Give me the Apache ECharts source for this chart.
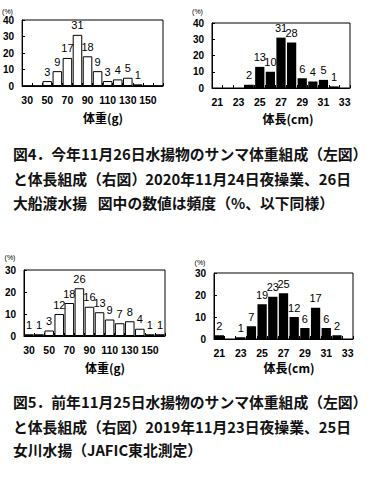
<!DOCTYPE html>
<html><head><meta charset="utf-8">
<script src="https://cdn.jsdelivr.net/npm/echarts@6/dist/echarts.min.js"></script>
<style>
html,body{margin:0;padding:0;background:#fff}
#c{width:371px;height:478px}
</style>
</head><body><div id="c"></div>
<script>
// categories
const weightCats = ['30','40','50','60','70','80','90','100','110','120','130','140','150','160'];
const lengthCats = ['21','22','23','24','25','26','27','28','29','30','31','32','33'];
// 2020 (fig.4): bar heights in % and printed labels
const wt2020Pct = [0,0,3,9,17,31,18,9,3,4,5,1,0,0];
const wt2020Lbl = [0,0,3,9,17,31,18,9,3,4,5,1,0,0];
const len2020Pct = [0,0,0,2,13,10,31,28,6,4,5,1,0];
const len2020Lbl = [0,0,0,2,13,10,31,28,6,4,5,1,0];
// 2019 (fig.5): bar heights in % and printed labels (counts)
const wt2019Pct = [0.8,0.8,2.5,10,15,21.7,13.3,10.8,7.5,5.8,6.7,3.3,0.8,0.8];
const wt2019Lbl = [1,1,3,12,18,26,16,13,9,7,8,4,1,1];
const len2019Pct = [1.7,0,0.8,5.8,15.8,19.2,20.8,10,5,14.2,5,1.7,0];
const len2019Lbl = [2,0,1,7,19,23,25,12,6,17,6,2,0];
// y ticks
const yMaxTop = 40, yMaxBottom = 30, yStep = 10;

const FONT = '"Liberation Sans", Arial, sans-serif';
const JP = '"Liberation Sans Narrow", "Noto Sans CJK JP", sans-serif';

const grids = [
  {left:21, top:20, width:142, height:66},
  {left:212, top:23, width:138, height:65},
  {left:24, top:270, width:141, height:66},
  {left:214, top:273, width:139, height:66}
];

function xAx(i, cats){
  return {type:'category', gridIndex:i, data:cats,
    axisLine:{lineStyle:{color:'#000', width:1}},
    axisTick:{show:true, inside:true, length:3, interval:0, lineStyle:{color:'#000'}},
    axisLabel:{interval:1, color:'#000', fontFamily:FONT, fontWeight:'bold', fontSize:10.5, margin:8}};
}
function yAx(i, max){
  return {type:'value', gridIndex:i, min:0, max:max, interval:yStep,
    splitLine:{show:false},
    axisLine:{show:true, lineStyle:{color:'#000', width:1}},
    axisTick:{show:true, inside:true, length:3, lineStyle:{color:'#000'}},
    axisLabel:{color:'#000', fontFamily:FONT, fontWeight:'bold', fontSize:10, margin:8}};
}
function ser(i, vals, lbls, white){
  return {type:'bar', xAxisIndex:i, yAxisIndex:i, data:vals,
    barCategoryGap: white ? '5%' : '13%',
    itemStyle: white ? {color:'#fff', borderColor:'#000', borderWidth:1} : {color:'#000'},
    label:{show:true, position:'top', distance:4, color:'#000', fontFamily:FONT, fontSize:11,
      formatter: p => lbls[p.dataIndex] ? String(lbls[p.dataIndex]) : ''},
    animation:false};
}
function txt(x, y, s, opt){
  return {type:'text', x:x, y:y, silent:true,
    style:Object.assign({text:s, fill:'#000', fontFamily:FONT, fontSize:12, align:'left', verticalAlign:'middle'}, opt||{})};
}
const cap = {fontFamily:JP, fontSize:14.8, fontWeight:'bold', fill:'#111'};
const capR = Object.assign({}, cap, {align:'right'});
const axn = {fontFamily:'"Noto Sans CJK JP", sans-serif', fontSize:12, fontWeight:'bold', align:'center'};
const pct = {fontFamily:FONT, fontSize:7, align:'center'};

const chart = echarts.init(document.getElementById('c'), null, {renderer:'svg'});
chart.setOption({
  backgroundColor:'#fff',
  animation:false,
  grid: grids.map(g => Object.assign({show:true, borderColor:'#000', borderWidth:1, backgroundColor:'transparent'}, g)),
  xAxis:[xAx(0, weightCats), xAx(1, lengthCats), xAx(2, weightCats), xAx(3, lengthCats)],
  yAxis:[yAx(0, yMaxTop), yAx(1, yMaxTop), yAx(2, yMaxBottom), yAx(3, yMaxBottom)],
  series:[ser(0, wt2020Pct, wt2020Lbl, true), ser(1, len2020Pct, len2020Lbl, false),
          ser(2, wt2019Pct, wt2019Lbl, true), ser(3, len2019Pct, len2019Lbl, false)],
  graphic:[
    txt(7.5, 11, '(%)', pct), txt(197.5, 11, '(%)', pct),
    txt(10, 257, '(%)', pct), txt(200, 262, '(%)', pct),
    txt(103, 117, '体重(g)', axn), txt(288, 118, '体長(cm)', axn),
    txt(105, 367, '体重(g)', axn), txt(289, 367, '体長(cm)', axn),
    txt(13, 153, '図4．今年11月26日水揚物のサンマ体重組成（左図）', cap),
    txt(13, 178, 'と体長組成（右図）', cap),
    txt(351, 178, '2020年11月24日夜操業、26日', capR),
    txt(13, 202, '大船渡水揚', cap),
    txt(334, 202, '図中の数値は頻度（%、以下同様）', capR),
    txt(13, 401, '図5．前年11月25日水揚物のサンマ体重組成（左図）', cap),
    txt(13, 426, 'と体長組成（右図）', cap),
    txt(351, 426, '2019年11月23日夜操業、25日', capR),
    txt(13, 449, '女川水揚（JAFIC東北測定）', cap)
  ]
});
</script></body></html>
